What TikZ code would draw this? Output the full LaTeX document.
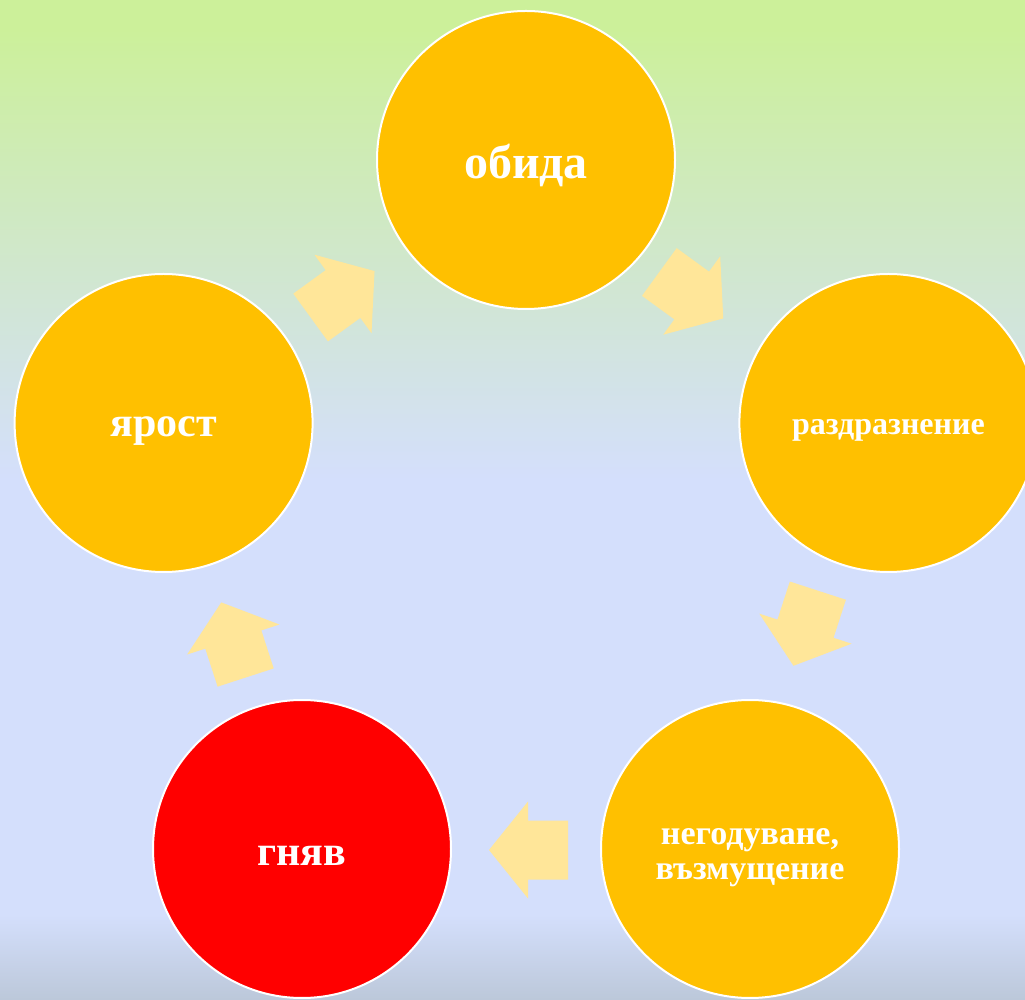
\documentclass[tikz,border=0pt]{standalone}
\usepackage{fontspec}
\setmainfont{Liberation Serif}
\definecolor{bggreen}{HTML}{CCF09A}
\definecolor{bgblue}{HTML}{D4DFFC}
\definecolor{bgbottom}{HTML}{BCC8DA}
\definecolor{gold}{HTML}{FFC000}
\definecolor{arrowfill}{HTML}{FFE699}
\definecolor{hot}{HTML}{FF0000}
\tikzset{
  stagecircle/.style={circle, draw=white, line width=2pt, fill=gold, minimum size=298pt, inner sep=0pt},
  stagetext/.style={text=white, inner sep=0pt, align=center},
  blockarrow/.pic={\fill[arrowfill] (39,0) -- (0,48.5) -- (0,29.5) -- (-40,29.5) -- (-40,-29.5) -- (0,-29.5) -- (0,-48.5) -- cycle;}
}
\begin{document}
\begin{tikzpicture}[x=1pt,y=1pt]
\useasboundingbox (0,0) rectangle (1025,999);
% background
\fill[bggreen] (0,969) rectangle (1025,999);
\shade[top color=bggreen, bottom color=bgblue] (0,519) rectangle (1025,969.5);
\fill[bgblue] (0,84) rectangle (1025,519.5);
\shade[top color=bgblue, bottom color=bgbottom] (0,0) rectangle (1025,84.5);
% stages
\node[stagecircle] (obida) at (526,839) {};
\node[stagecircle] (razdr) at (888.4,576) {};
\node[stagecircle] (negod) at (750,150) {};
\node[stagecircle, fill=hot] (gnyav) at (302,150) {};
\node[stagecircle] (yarost) at (163.6,576) {};
\node[stagetext, font=\bfseries\fontsize{48}{50}\selectfont] (obida-t) at ([yshift=-6pt]obida.center) {обида};
\node[stagetext, font=\bfseries\fontsize{32}{34}\selectfont] (razdr-t) at ([yshift=-7pt]razdr.center) {раздразнение};
\node[stagetext, font=\bfseries\fontsize{34}{33}\selectfont] (negod-t) at ([yshift=-9pt]negod.center) {негодуване,\\[2pt]възмущение};
\node[stagetext, font=\bfseries\fontsize{42}{44}\selectfont] (gnyav-t) at ([yshift=-7pt]gnyav.center) {гняв};
\node[stagetext, font=\bfseries\fontsize{42}{44}\selectfont] (yarost-t) at ([yshift=-8pt]yarost.center) {ярост};
% block arrows of the cycle
\pic[rotate=36] at (343,705) {blockarrow};
\pic[rotate=-36] at (691.7,703.5) {blockarrow};
\pic[rotate=-108] at (805.5,370.3) {blockarrow};
\pic[rotate=180] at (528,149) {blockarrow};
\pic[rotate=108] at (233.3,359.5) {blockarrow};
\end{tikzpicture}
\end{document}
